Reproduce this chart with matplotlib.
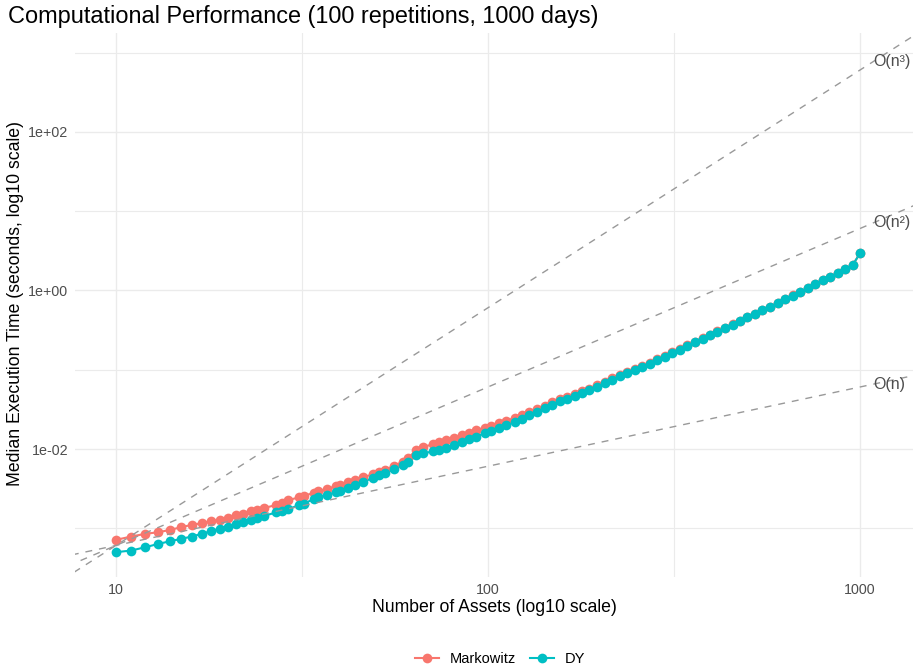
import numpy as np
import matplotlib
matplotlib.use("Agg")
import matplotlib.pyplot as plt
from matplotlib.lines import Line2D
from matplotlib.ticker import FixedLocator, NullFormatter

plt.rcParams['font.family'] = ['Liberation Sans', 'DejaVu Sans']

# number of assets (x) and median run time in seconds for each method
n_assets = [10, 11, 12, 13, 14, 15, 16, 17, 18, 19, 20, 21, 22, 23, 24, 25, 27, 28, 29, 31,
            32, 34, 35, 37, 39, 40, 42, 44, 46, 49, 51, 53, 56, 59, 61, 64, 67, 71, 74, 77,
            81, 85, 89, 93, 98, 102, 107, 112, 118, 123, 129, 135, 142, 149, 156, 163, 171, 179, 187, 196,
            206, 215, 226, 236, 248, 260, 272, 285, 298, 313, 327, 343, 359, 377, 394, 413, 433, 454, 475, 498,
            521, 546, 572, 600, 628, 658, 689, 722, 757, 793, 830, 870, 911, 955, 1000]

markowitz = [7.14e-4, 7.87e-4, 8.51e-4, 8.91e-4, 9.55e-4, 1.033e-3, 1.104e-3, 1.159e-3, 1.227e-3, 1.276e-3,
             1.340e-3, 1.449e-3, 1.521e-3, 1.641e-3, 1.718e-3, 1.80e-3, 1.97e-3, 2.07e-3, 2.26e-3, 2.45e-3,
             2.57e-3, 2.79e-3, 2.92e-3, 3.16e-3, 3.39e-3, 3.51e-3, 3.80e-3, 4.07e-3, 4.37e-3, 4.79e-3,
             5.13e-3, 5.50e-3, 6.17e-3, 6.92e-3, 7.59e-3, 9.77e-3, 1.059e-2, 1.148e-2, 1.216e-2, 1.288e-2,
             1.396e-2, 1.496e-2, 1.603e-2, 1.718e-2, 1.862e-2, 1.972e-2, 2.11e-2, 2.26e-2, 2.48e-2, 2.66e-2,
             2.92e-2, 3.16e-2, 3.51e-2, 3.89e-2, 4.22e-2, 4.52e-2, 4.95e-2, 5.37e-2, 5.79e-2, 6.34e-2,
             7.08e-2, 7.76e-2, 8.57e-2, 9.40e-2, 0.103, 0.113, 0.123, 0.136, 0.149, 0.167,
             0.185, 0.205, 0.226, 0.251, 0.278, 0.308, 0.340, 0.377, 0.417, 0.461,
             0.512, 0.566, 0.628, 0.697, 0.780, 0.865, 0.959, 1.07, 1.21, 1.35,
             1.50, 1.66, 1.86, 2.11, 2.95]

dy = [4.99e-4, 5.24e-4, 5.77e-4, 6.35e-4, 6.87e-4, 7.36e-4, 7.87e-4, 8.51e-4, 9.18e-4, 9.84e-4,
      1.042e-3, 1.127e-3, 1.202e-3, 1.288e-3, 1.36e-3, 1.435e-3, 1.585e-3, 1.66e-3, 1.74e-3, 1.95e-3,
      2.04e-3, 2.34e-3, 2.45e-3, 2.66e-3, 2.85e-3, 2.99e-3, 3.24e-3, 3.51e-3, 3.80e-3, 4.32e-3,
      4.65e-3, 4.95e-3, 5.62e-3, 6.31e-3, 6.76e-3, 8.32e-3, 8.81e-3, 9.33e-3, 9.77e-3, 1.035e-2,
      1.135e-2, 1.23e-2, 1.324e-2, 1.435e-2, 1.585e-2, 1.70e-2, 1.84e-2, 2.00e-2, 2.21e-2, 2.40e-2,
      2.66e-2, 2.92e-2, 3.27e-2, 3.63e-2, 3.98e-2, 4.27e-2, 4.68e-2, 5.07e-2, 5.50e-2, 6.03e-2,
      6.76e-2, 7.41e-2, 8.22e-2, 9.02e-2, 9.89e-2, 0.108, 0.119, 0.132, 0.145, 0.162,
      0.180, 0.200, 0.221, 0.245, 0.272, 0.302, 0.335, 0.372, 0.412, 0.457,
      0.507, 0.562, 0.624, 0.692, 0.776, 0.861, 0.955, 1.07, 1.20, 1.35,
      1.50, 1.66, 1.86, 2.11, 2.95]

ref_orders = [1, 2, 3]
ref_labels = ["O(n)", "O(n²)", "O(n³)"]
x_ticks = [10, 100, 1000]
x_tick_labels = ["10", "100", "1000"]
y_ticks = [1e-2, 1e0, 1e2]
y_tick_labels = ["1e-02", "1e+00", "1e+02"]

red = "#F8766D"
teal = "#00BFC4"

fig = plt.figure(figsize=(9.16, 6.69), dpi=100)
W, H = 916, 669
ax = fig.add_axes([75 / W, 1 - 577 / H, (913 - 75) / W, (577 - 33) / H])
ax.set_xscale('log')
ax.set_yscale('log')
ax.set_xlim(10 ** 0.890, 10 ** 3.142)
ax.set_ylim(10 ** -3.615, 10 ** 3.249)

# grid like theme_minimal
ax.xaxis.set_major_locator(FixedLocator(x_ticks))
ax.yaxis.set_major_locator(FixedLocator(y_ticks))
ax.xaxis.set_minor_locator(FixedLocator([10 ** 1.5, 10 ** 2.5]))
ax.yaxis.set_minor_locator(FixedLocator([1e-3, 1e-1, 1e1, 1e3]))
ax.xaxis.set_minor_formatter(NullFormatter())
ax.yaxis.set_minor_formatter(NullFormatter())
ax.set_xticklabels(x_tick_labels)
ax.set_yticklabels(y_tick_labels)
ax.grid(which='major', color='#EBEBEB', lw=1.0)
ax.grid(which='minor', color='#EBEBEB', lw=0.8)
ax.set_axisbelow(True)
for s in ax.spines.values():
    s.set_visible(False)
ax.tick_params(which='both', length=0, labelsize=10.3, labelcolor='#4D4D4D')
ax.tick_params(axis='x', pad=4)
ax.tick_params(axis='y', pad=5)

# data
ax.plot(n_assets, markowitz, color=red, lw=1.5, zorder=2)
ax.plot(n_assets, dy, color=teal, lw=1.5, zorder=2)
ax.plot(n_assets, markowitz, 'o', color=red, ms=7, mew=0, zorder=3)
ax.plot(n_assets, dy, 'o', color=teal, ms=7, mew=0, zorder=3)

# reference complexity lines, anchored at the first measurement
c = (markowitz[0] + dy[0]) / 2
x_ref = np.array([5.0, 2000.0])
for k, lab in zip(ref_orders, ref_labels):
    ax.plot(x_ref, c * (x_ref / 10) ** k, ls=(0, (5, 5)), color='#999999', lw=1.0, zorder=4)
    ax.text(1085, c * 108.5 ** k, lab, ha='left', va='center', fontsize=11.5,
            color='#4D4D4D', zorder=5)

fig.text(8 / W, 1 - 17 / H, "Computational Performance (100 repetitions, 1000 days)",
         ha='left', va='center', fontsize=16.9)
fig.text(494 / W, 1 - 608 / H, "Number of Assets (log10 scale)", ha='center', va='center', fontsize=12.7)
fig.text(16 / W, 1 - 303 / H, "Median Execution Time (seconds, log10 scale)", ha='center', va='center',
         rotation=90, fontsize=12.7)

handles = [Line2D([], [], color=red, lw=1.5, marker='o', ms=7, mew=0),
           Line2D([], [], color=teal, lw=1.5, marker='o', ms=7, mew=0)]
fig.legend(handles, ["Markowitz", "DY"], loc='center', bbox_to_anchor=(500 / W, 1 - 659 / H), ncol=2,
           frameon=False, fontsize=10.5, handlelength=1.65, columnspacing=0.9, handletextpad=0.75)

fig.savefig("out.png", dpi=100)
